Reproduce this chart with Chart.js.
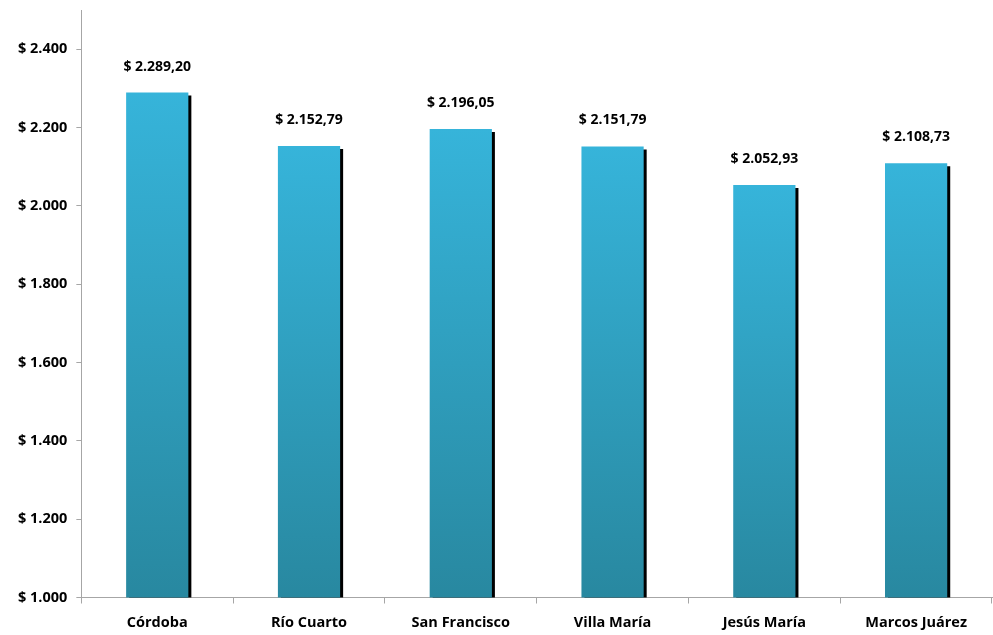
<!DOCTYPE html>
<html>
<head>
<meta charset="utf-8">
<script src="https://cdn.jsdelivr.net/npm/chart.js@4.4.0/dist/chart.umd.min.js"></script>
<style>
  html, body { margin: 0; padding: 0; background: #fff; }
  #wrap { width: 993px; height: 635px; }
</style>
</head>
<body>
<div id="wrap"><canvas id="bars" width="993" height="635"></canvas></div>
<script>
// data
const cities = ['Córdoba', 'Río Cuarto', 'San Francisco', 'Villa María', 'Jesús María', 'Marcos Juárez'];
const prices = [2289.20, 2152.79, 2196.05, 2151.79, 2052.93, 2108.73];
const yTicks = [1000, 1200, 1400, 1600, 1800, 2000, 2200, 2400];

const FONT = '"Open Sans", "Noto Sans", sans-serif';

// 2.289,20 style
function money(v, dec) {
  let parts = v.toFixed(dec).split('.');
  let ent = parts[0].replace(/\B(?=(\d{3})+(?!\d))/g, '.');
  return '$ ' + ent + (dec ? ',' + parts[1] : '');
}

// each bar fades from light blue (top) to darker teal (bottom)
function barFill(context) {
  const chart = context.chart;
  const area = chart.chartArea;
  if (!area) return '#33b1d6';
  const y = chart.scales.y;
  const top = y.getPixelForValue(context.raw);
  const bottom = y.getPixelForValue(y.min);
  const g = chart.ctx.createLinearGradient(0, top, 0, bottom);
  g.addColorStop(0, '#36b4da');
  g.addColorStop(1, '#2888a0');
  return g;
}

// black drop shadow to the right of the bars
const shadowPlugin = {
  id: 'barShadow',
  beforeDatasetsDraw(chart) {
    const c = chart.ctx;
    c.save();
    c.shadowColor = '#000';
    c.shadowOffsetX = 3;
    c.shadowOffsetY = 3;
    c.shadowBlur = 0;
  },
  afterDatasetsDraw(chart) {
    chart.ctx.restore();
  }
};

// value labels above bars
const valueLabels = {
  id: 'valueLabels',
  afterDraw(chart) {
    const c = chart.ctx;
    const meta = chart.getDatasetMeta(0);
    c.save();
    c.font = 'bold 14px ' + FONT;
    c.fillStyle = '#000';
    c.textAlign = 'center';
    c.textBaseline = 'alphabetic';
    meta.data.forEach((bar, i) => {
      c.fillText(money(prices[i], 2), bar.x, bar.y - 22);
    });
    c.restore();
  }
};

new Chart(document.getElementById('bars'), {
  type: 'bar',
  data: {
    labels: cities,
    datasets: [{
      data: prices,
      backgroundColor: barFill,
      borderWidth: 0,
      categoryPercentage: 1,
      barPercentage: 0.41
    }]
  },
  options: {
    responsive: false,
    animation: false,
    layout: { padding: { top: 10, right: 1, left: 9, bottom: -7 } },
    plugins: {
      legend: { display: false },
      tooltip: { enabled: false }
    },
    scales: {
      x: {
        offset: true,
        grid: {
          offset: true,
          drawOnChartArea: false,
          color: '#a6a6a6',
          tickLength: 6
        },
        border: { color: '#a6a6a6', width: 1 },
        ticks: {
          color: '#000',
          padding: 12,
          font: { family: FONT, size: 14.5, weight: 'bold', lineHeight: 1 }
        }
      },
      y: {
        min: 1000,
        max: 2500,
        afterBuildTicks(axis) {
          axis.ticks = yTicks.map(v => ({ value: v }));
        },
        afterFit(axis) {
          axis.paddingTop = 0;
        },
        grid: {
          drawOnChartArea: false,
          color: '#a6a6a6',
          tickLength: 5
        },
        border: { color: '#a6a6a6', width: 1 },
        ticks: {
          color: '#000',
          padding: 9,
          font: { family: FONT, size: 14.5, weight: 'bold' },
          callback: v => money(v, 0)
        }
      }
    }
  },
  plugins: [shadowPlugin, valueLabels]
});
</script>
</body>
</html>
